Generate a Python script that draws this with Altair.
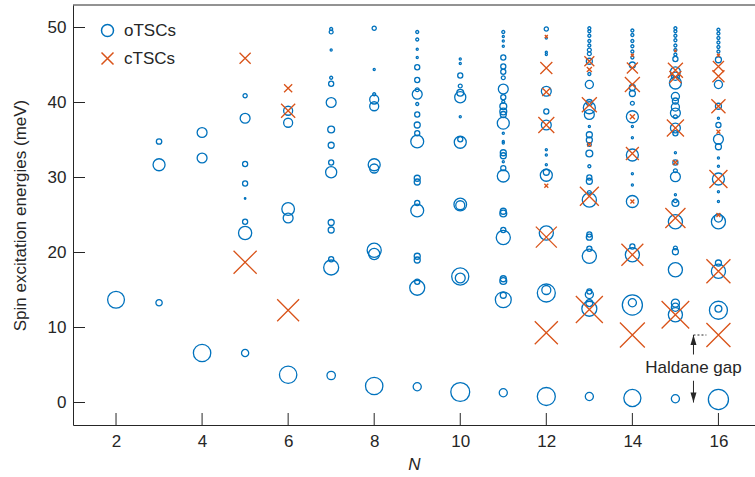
import altair as alt
import pandas as pd

BLUE = "#0072BD"
ORANGE = "#D95319"
INK = "#262626"
FONT = "Liberation Sans"

# Excitation levels per chain length N, as (energy in meV, relative spectral weight)
# Open-chain triangular spin clusters (oTSCs)
otsc_n2 = [(13.7, 0.56)]
otsc_n3 = [(13.3, 0.21), (31.7, 0.40), (34.8, 0.18)]
otsc_n4 = [(6.6, 0.58), (32.6, 0.33), (36.0, 0.33)]
otsc_n5 = [(6.6, 0.24), (22.6, 0.44), (24.1, 0.17), (27.2, 0.05), (29.2, 0.17),
           (31.8, 0.17), (37.9, 0.33), (40.9, 0.14)]
otsc_n6 = [(3.7, 0.58), (24.6, 0.33), (25.8, 0.42), (37.3, 0.30), (38.9, 0.30)]
otsc_n7 = [(3.6, 0.28), (18.0, 0.50), (19.1, 0.17), (23.0, 0.20), (24.0, 0.20),
           (30.7, 0.37), (32.0, 0.17), (34.3, 0.20), (36.4, 0.23), (40.0, 0.33),
           (42.5, 0.17), (43.3, 0.10), (47.0, 0.07), (49.4, 0.13), (49.8, 0.10)]
otsc_n8 = [(2.2, 0.58), (19.8, 0.37), (20.3, 0.47), (31.2, 0.30), (31.7, 0.40),
           (39.5, 0.30), (40.4, 0.30), (41.1, 0.10), (44.4, 0.07), (49.9, 0.14)]
otsc_n9 = [(2.1, 0.27), (15.3, 0.50), (16.1, 0.17), (19.0, 0.20), (19.5, 0.20),
           (25.6, 0.43), (26.6, 0.17), (29.4, 0.20), (29.9, 0.20), (34.8, 0.43),
           (35.9, 0.17), (37.0, 0.20), (38.4, 0.17), (39.8, 0.10), (41.1, 0.33),
           (41.7, 0.13), (43.0, 0.17), (44.7, 0.17), (46.0, 0.07), (47.1, 0.07),
           (48.4, 0.10), (49.4, 0.10)]
otsc_n10 = [(1.4, 0.63), (16.6, 0.33), (16.8, 0.57), (26.3, 0.30), (26.4, 0.42),
            (34.7, 0.40), (35.1, 0.17), (38.1, 0.07), (40.7, 0.37), (41.3, 0.23),
            (42.2, 0.13), (43.6, 0.17), (45.2, 0.07), (45.8, 0.07)]
otsc_n11 = [(1.3, 0.27), (13.7, 0.53), (14.3, 0.20), (16.2, 0.23), (16.5, 0.20),
            (22.0, 0.47), (23.0, 0.17), (25.2, 0.23), (25.5, 0.20), (30.2, 0.40),
            (31.25, 0.17), (32.1, 0.07), (32.9, 0.20), (33.3, 0.20), (34.6, 0.07),
            (34.8, 0.07), (35.9, 0.07), (37.25, 0.40), (38.4, 0.20), (38.8, 0.23),
            (39.5, 0.23), (40.1, 0.10), (40.7, 0.17), (41.8, 0.33), (43.3, 0.13),
            (44.1, 0.17), (44.8, 0.17), (46.0, 0.17), (47.5, 0.07), (48.2, 0.07),
            (48.8, 0.07), (49.4, 0.10)]
otsc_n12 = [(0.8, 0.60), (14.6, 0.60), (15.0, 0.30), (22.6, 0.47), (30.3, 0.40),
            (30.7, 0.20), (31.7, 0.07), (33.0, 0.07), (33.7, 0.07), (37.0, 0.33),
            (38.8, 0.17), (41.5, 0.33), (46.4, 0.07), (46.7, 0.07), (48.6, 0.07),
            (49.8, 0.14)]
otsc_n13 = [(0.8, 0.27), (12.5, 0.50), (13.25, 0.23), (14.4, 0.27), (14.8, 0.17),
            (19.5, 0.47), (20.5, 0.17), (22.05, 0.20), (22.4, 0.17), (27.0, 0.47),
            (28.0, 0.13), (29.5, 0.20), (30.0, 0.17), (31.5, 0.10), (33.2, 0.23),
            (34.4, 0.13), (35.0, 0.20), (35.7, 0.20), (36.8, 0.07), (38.4, 0.33),
            (39.3, 0.40), (40.0, 0.20), (42.4, 0.27), (43.8, 0.10), (45.5, 0.20),
            (46.5, 0.13), (47.0, 0.13), (47.6, 0.10), (48.2, 0.10), (48.9, 0.10),
            (49.5, 0.10), (49.9, 0.10)]
otsc_n14 = [(0.6, 0.57), (13.0, 0.67), (13.3, 0.27), (19.7, 0.47), (20.8, 0.17),
            (26.8, 0.40), (29.0, 0.07), (30.5, 0.07), (33.0, 0.40), (35.3, 0.07),
            (36.8, 0.07), (38.1, 0.40), (39.9, 0.13), (41.2, 0.20), (42.0, 0.20),
            (45.0, 0.20), (46.0, 0.10), (46.8, 0.10), (47.5, 0.10), (48.2, 0.10),
            (49.0, 0.10), (49.6, 0.10)]
otsc_n15 = [(0.5, 0.27), (11.7, 0.47), (12.7, 0.27), (13.25, 0.27), (17.7, 0.47),
            (20.1, 0.20), (20.6, 0.13), (24.1, 0.47), (26.6, 0.23), (26.9, 0.13),
            (27.7, 0.07), (30.1, 0.33), (30.9, 0.13), (32.0, 0.17), (33.3, 0.07),
            (35.9, 0.17), (36.6, 0.33), (38.1, 0.13), (38.6, 0.33), (39.4, 0.27),
            (40.2, 0.20), (40.8, 0.27), (42.6, 0.40), (43.5, 0.27), (44.1, 0.33),
            (45.8, 0.17), (46.4, 0.10), (47.0, 0.10), (47.6, 0.10), (48.3, 0.10),
            (48.9, 0.10), (49.5, 0.10), (49.9, 0.10)]
otsc_n16 = [(0.4, 0.67), (12.3, 0.60), (12.5, 0.23), (17.5, 0.47), (18.6, 0.20),
            (24.1, 0.47), (24.6, 0.27), (26.8, 0.07), (28.1, 0.07), (29.8, 0.40),
            (31.5, 0.07), (32.6, 0.07), (34.1, 0.20), (35.1, 0.33), (37.0, 0.17),
            (37.9, 0.07), (39.5, 0.20), (42.4, 0.27), (45.7, 0.20), (46.8, 0.10),
            (47.4, 0.10), (48.0, 0.10), (48.6, 0.10), (49.2, 0.10), (49.7, 0.10)]

# Closed-chain triangular spin clusters (cTSCs)
ctsc_n5 = [(18.7, 0.77), (45.9, 0.37)]
ctsc_n6 = [(12.3, 0.73), (38.9, 0.47), (41.9, 0.27)]
ctsc_n12 = [(9.3, 0.77), (22.05, 0.70), (28.9, 0.13), (37.0, 0.53), (41.4, 0.27),
            (44.6, 0.40), (48.8, 0.10)]
ctsc_n13 = [(12.4, 0.90), (27.5, 0.63), (34.4, 0.13), (39.7, 0.50), (44.4, 0.17),
            (45.5, 0.33)]
ctsc_n14 = [(9.0, 0.83), (19.7, 0.73), (26.8, 0.13), (33.2, 0.43), (38.1, 0.17),
            (42.4, 0.50), (44.6, 0.37), (46.3, 0.10)]
ctsc_n15 = [(11.7, 0.92), (24.6, 0.67), (32.0, 0.17), (36.6, 0.57), (43.4, 0.40),
            (44.3, 0.50), (46.9, 0.07)]
ctsc_n16 = [(9.0, 0.80), (17.5, 0.80), (25.0, 0.13), (29.8, 0.60), (36.1, 0.13),
            (39.5, 0.47), (43.5, 0.40), (44.8, 0.37), (46.3, 0.10)]

OTSC = [(2, otsc_n2), (3, otsc_n3), (4, otsc_n4), (5, otsc_n5), (6, otsc_n6),
        (7, otsc_n7), (8, otsc_n8), (9, otsc_n9), (10, otsc_n10), (11, otsc_n11),
        (12, otsc_n12), (13, otsc_n13), (14, otsc_n14), (15, otsc_n15), (16, otsc_n16)]
CTSC = [(5, ctsc_n5), (6, ctsc_n6), (12, ctsc_n12), (13, ctsc_n13), (14, ctsc_n14),
        (15, ctsc_n15), (16, ctsc_n16)]

X_TICKS = [2, 4, 6, 8, 10, 12, 14, 16]
Y_TICKS = [0, 10, 20, 30, 40, 50]

# Haldane gap marker: the gap energy, the ground level and where the arrows sit
GAP_N = 15.42
GAP_TOP = 9.0
GAP_BOTTOM = 0.0
GAP_LABEL_E = 4.6
GAP_DASH_END = 15.72

rows = []
for kind, groups in (("oTSCs", OTSC), ("cTSCs", CTSC)):
    for n, levels in groups:
        for e, w in levels:
            rows.append({"N": n, "E": e, "w": w, "kind": kind})
df = pd.DataFrame(rows)

PLOT_W, PLOT_H = 682, 420
CROSS = "M-1,-1L1,1M-1,1L1,-1"
ARROW_UP = "M0,0L0.6,2L-0.6,2Z"
ARROW_DOWN = "M0,0L0.6,-2L-0.6,-2Z"

x_scale = alt.Scale(domain=[1, 16.85], nice=False, zero=False)
y_scale = alt.Scale(domain=[-3, 53], nice=False, zero=False)
x_axis = alt.Axis(values=X_TICKS, ticks=False, grid=False, labelPadding=8,
                  title="N", titleFontStyle="italic", titlePadding=7)
y_axis = alt.Axis(values=Y_TICKS, ticks=False, grid=False, labelPadding=7,
                  title="Spin excitation energies (meV)", titlePadding=18)


def xy(chart):
    """Place a layer on the shared N / energy scales."""
    return chart.encode(
        x=alt.X("N:Q", scale=x_scale, axis=x_axis),
        y=alt.Y("E:Q", scale=y_scale, axis=y_axis),
    )


legend = alt.Legend(
    title=None, orient="none", legendX=26, legendY=17, padding=0,
    labelFont=FONT, labelFontSize=17, labelColor=INK, labelOffset=8,
    symbolSize=144, symbolStrokeWidth=1.5, rowPadding=9,
)

points = xy(alt.Chart(df).mark_point(filled=False, strokeWidth=1.3, opacity=1)).encode(
    color=alt.Color("kind:N", scale=alt.Scale(domain=["oTSCs", "cTSCs"],
                                              range=[BLUE, ORANGE]), legend=legend),
    shape=alt.Shape("kind:N", scale=alt.Scale(domain=["oTSCs", "cTSCs"],
                                              range=["circle", CROSS]), legend=legend),
    size=alt.Size("w:Q", scale=alt.Scale(type="pow", exponent=2, domain=[0, 1],
                                         range=[0, 900]), legend=None),
)

# Inward tick marks on the bottom and left axes
x_ticks = alt.Chart(pd.DataFrame({"N": X_TICKS})).mark_rule(
    color=INK, strokeWidth=1).encode(
    x=alt.X("N:Q", scale=x_scale, axis=x_axis),
    y=alt.value(PLOT_H), y2=alt.value(PLOT_H - 12))
y_ticks = alt.Chart(pd.DataFrame({"E": Y_TICKS})).mark_rule(
    color=INK, strokeWidth=1).encode(
    y=alt.Y("E:Q", scale=y_scale, axis=y_axis),
    x=alt.value(0), x2=alt.value(12))
top_frame = alt.Chart(pd.DataFrame({"t": [0]})).mark_rule(
    color=INK, strokeWidth=1).encode(
    y=alt.value(0), x=alt.value(0), x2=alt.value(PLOT_W))

# Haldane gap annotation
gap_dash = xy(alt.Chart(pd.DataFrame({"N": [GAP_N], "N2": [GAP_DASH_END],
                                      "E": [GAP_TOP]})).mark_rule(
    color=INK, strokeWidth=1, strokeDash=[2, 2])).encode(x2="N2:Q")
gap_shafts = xy(alt.Chart(pd.DataFrame({"N": [GAP_N, GAP_N], "E": [6.4, 2.9],
                                        "E2": [GAP_TOP, GAP_BOTTOM]})).mark_rule(
    color=INK, strokeWidth=1)).encode(y2="E2:Q")
head_up = xy(alt.Chart(pd.DataFrame({"N": [GAP_N], "E": [GAP_TOP]})).mark_point(
    shape=ARROW_UP, filled=True, color=INK, size=100, opacity=1, strokeWidth=0))
head_down = xy(alt.Chart(pd.DataFrame({"N": [GAP_N], "E": [GAP_BOTTOM]})).mark_point(
    shape=ARROW_DOWN, filled=True, color=INK, size=100, opacity=1, strokeWidth=0))
gap_label = xy(alt.Chart(pd.DataFrame({"N": [GAP_N], "E": [GAP_LABEL_E],
                                       "label": ["Haldane gap"]})).mark_text(
    font=FONT, fontSize=17, color=INK, align="center", baseline="middle")).encode(
    text="label:N")

chart = alt.layer(
    points, x_ticks, y_ticks, top_frame, gap_dash, gap_shafts, head_up, head_down, gap_label
).properties(
    width=PLOT_W, height=PLOT_H,
    autosize=alt.AutoSizeParams(type="none"),
    padding={"left": 73, "top": 5, "right": 0, "bottom": 52},
    background="white",
).configure_view(stroke=None).configure_axis(
    domainColor=INK, domainWidth=1,
    labelFont=FONT, labelFontSize=17, labelColor=INK,
    titleFont=FONT, titleFontSize=17, titleColor=INK, titleFontWeight="normal",
)

chart.save("out.html", embed_options={"renderer": "svg", "actions": False})
